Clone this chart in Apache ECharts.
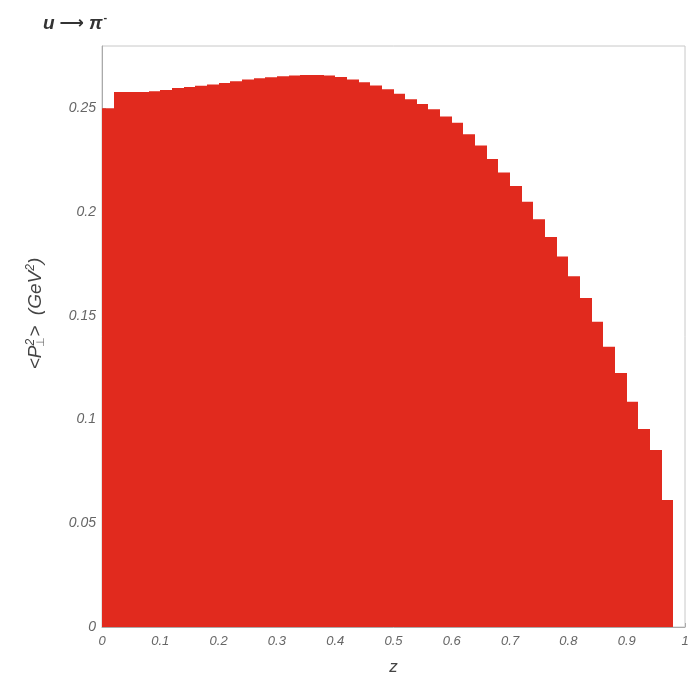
<!DOCTYPE html>
<html>
<head>
<meta charset="utf-8">
<script src="https://cdn.jsdelivr.net/npm/echarts@6/dist/echarts.min.js"></script>
<style>
  html, body { margin: 0; padding: 0; background: #fff; }
  #chart { width: 695px; height: 683px; }
</style>
</head>
<body>
<div id="chart"></div>
<script>
// bin left edges in z, each bin is binWidth wide
var binWidth = 0.02;
var binStart = [0.00, 0.02, 0.04, 0.06, 0.08, 0.10, 0.12, 0.14, 0.16, 0.18,
                0.20, 0.22, 0.24, 0.26, 0.28, 0.30, 0.32, 0.34, 0.36, 0.38,
                0.40, 0.42, 0.44, 0.46, 0.48, 0.50, 0.52, 0.54, 0.56, 0.58,
                0.60, 0.62, 0.64, 0.66, 0.68, 0.70, 0.72, 0.74, 0.76, 0.78,
                0.80, 0.82, 0.84, 0.86, 0.88, 0.90, 0.92, 0.94, 0.96];
// <P_perp^2> per bin (GeV^2)
var meanPt2 = [0.2500, 0.2578, 0.2578, 0.2578, 0.2582, 0.2588, 0.2598, 0.2603, 0.2608, 0.2614,
               0.2622, 0.2630, 0.2638, 0.2645, 0.2650, 0.2654, 0.2658, 0.2660, 0.2660, 0.2658,
               0.2651, 0.2638, 0.2625, 0.2610, 0.2592, 0.2570, 0.2543, 0.2520, 0.2495, 0.2460,
               0.2430, 0.2375, 0.2320, 0.2255, 0.2190, 0.2125, 0.2050, 0.1965, 0.1880, 0.1785,
               0.1690, 0.1586, 0.1471, 0.1351, 0.1224, 0.1086, 0.0954, 0.0853, 0.0612];

var barData = binStart.map(function (s, i) { return [s, s + binWidth, meanPt2[i]]; });

var option = {
    backgroundColor: '#fff',
    animation: false,
    title: {
        text: '{t|u}{r|⟶}{t|π}{s|-}',
        left: 38,
        top: 7,
        textStyle: {
            rich: {
                t: { fontFamily: 'Liberation Sans', fontStyle: 'italic', fontSize: 19, color: '#333' },
                r: { fontFamily: 'DejaVu Sans', fontSize: 17, color: '#333', padding: [0, 5, 0, 5] },
                s: { fontFamily: 'Liberation Sans', fontSize: 11, color: '#333', verticalAlign: 'top', padding: [0, 0, 12, 1] }
            }
        }
    },
    grid: {
        left: 102,
        right: 10,
        top: 46,
        bottom: 56,
        show: true,
        borderColor: '#c8c8c8',
        borderWidth: 1,
        backgroundColor: 'transparent'
    },
    xAxis: {
        type: 'value',
        min: 0,
        max: 1,
        interval: 0.1,
        name: 'z',
        nameLocation: 'middle',
        nameGap: 32,
        nameTextStyle: { fontFamily: 'Liberation Sans', fontStyle: 'italic', fontSize: 17, color: '#444' },
        axisLine: { show: true, lineStyle: { color: '#aaa' } },
        axisTick: { show: true, inside: true, length: 4, lineStyle: { color: '#aaa' } },
        splitLine: { show: false },
        axisLabel: {
            margin: 8,
            fontFamily: 'Liberation Sans',
            fontStyle: 'italic',
            fontSize: 13,
            color: '#666'
        }
    },
    yAxis: {
        type: 'value',
        min: 0,
        max: 0.28,
        interval: 0.05,
        name: '{a|<P}{b|2}{c|⊥}{a|>  (GeV}{b|2}{a|)}',
        nameLocation: 'middle',
        nameRotate: 90,
        nameGap: 56,
        nameTextStyle: {
            padding: [0, 0, 0, 46],
            rich: {
                a: { fontFamily: 'Liberation Sans', fontStyle: 'italic', fontSize: 19, color: '#444' },
                b: { fontFamily: 'Liberation Sans', fontStyle: 'italic', fontSize: 12, color: '#444', verticalAlign: 'top', padding: [0, 0, 9, 0] },
                c: { fontFamily: 'Liberation Sans', fontSize: 11, color: '#777', verticalAlign: 'bottom', padding: [9, 0, 0, -8] }
            }
        },
        axisLine: { show: true, lineStyle: { color: '#aaa' } },
        axisTick: { show: true, inside: true, length: 4, lineStyle: { color: '#aaa' } },
        splitLine: { show: false },
        axisLabel: {
            margin: 6,
            showMaxLabel: false,
            fontFamily: 'Liberation Sans',
            fontStyle: 'italic',
            fontSize: 14,
            color: '#666'
        }
    },
    series: [{
        type: 'custom',
        data: barData,
        encode: { x: [0, 1], y: 2 },
        renderItem: function (params, api) {
            var p0 = api.coord([api.value(0), api.value(2)]);
            var p1 = api.coord([api.value(1), 0]);
            var x0 = Math.round(p0[0]);
            var x1 = Math.round(p1[0]);
            return {
                type: 'rect',
                shape: { x: x0, y: p0[1], width: x1 - x0, height: p1[1] - p0[1] },
                style: { fill: '#e12a1e' }
            };
        }
    }]
};

var myChart = echarts.init(document.getElementById('chart'));
myChart.setOption(option);
</script>
</body>
</html>
